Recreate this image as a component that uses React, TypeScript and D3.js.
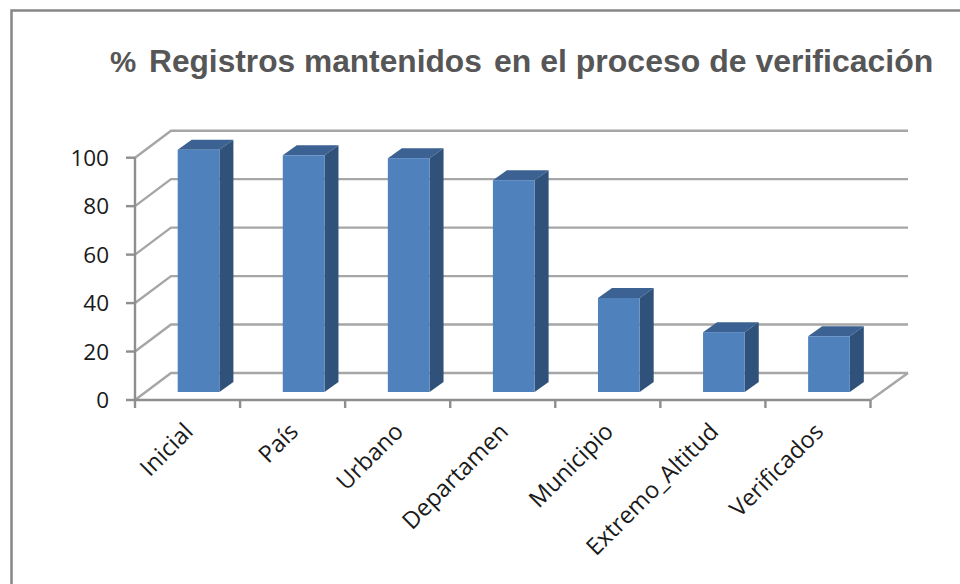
import React from "react";
import * as d3 from "d3";

const categories = ["Inicial", "País", "Urbano", "Departamen", "Municipio", "Extremo_Altitud", "Verificados"];
const values = [100, 97.7, 96.5, 87.4, 38.8, 24.7, 23];
const yTicks = [0, 20, 40, 60, 80, 100];
const titleParts = ["%", "Registros mantenidos", "en el proceso de verificación"];

const GRID = "#a6a6a6";
const AXIS = "#8e8e8e";
const FRONT = "#4f81bd";
const TOP = "#3b6292";
const SIDE = "#30527a";

// Oblique projection of the floor and back wall
const wallDx = 36;
const wallDy = -27;
const barDx = 14;
const barDy = -10;
const barLift = 8;
const barInset = 42.7;
const barWidth = 41.7;

const x = d3.scaleBand<string>().domain(categories).range([135, 870.5]);
const y = d3.scaleLinear().domain([0, 100]).range([400, 157.7]);
const poly = d3.line<[number, number]>();

export default function App() {
  const right = x.range()[1];
  const left = x.range()[0];
  const base = y(0);
  return (
    <svg width={960} height={584} style={{ position: "fixed", left: 0, top: 0, background: "#fff" }}>
      <path d="M11.5 584V10.5H960" fill="none" stroke="#868686" strokeWidth={2.5} />
      <text y={72} fontFamily="Liberation Sans" fontWeight={700} fontSize={32} fill="#565656">
        <tspan x={110} fontSize={29.5}>{titleParts[0]}</tspan>
        <tspan x={149} fontSize={31.7}>{titleParts[1]}</tspan>
        <tspan x={494}>{titleParts[2]}</tspan>
      </text>

      {/* Back wall gridlines with their returns along the side wall */}
      {yTicks.map((t) => (
        <path
          key={t}
          d={poly([[left, y(t)], [left + wallDx, y(t) + wallDy], [right + wallDx + 1.5, y(t) + wallDy]]) ?? ""}
          fill="none"
          stroke={GRID}
          strokeWidth={2.4}
        />
      ))}
      <path
        d={poly([[right, base], [right + wallDx + 1.5, base + wallDy]]) ?? ""}
        fill="none"
        stroke={GRID}
        strokeWidth={2.4}
      />

      {/* Axes */}
      <path d={`M${left} ${y(100)}V${base}H${right}`} fill="none" stroke={AXIS} strokeWidth={2.4} />
      {yTicks.map((t) => (
        <g key={t}>
          <line x1={left - 9} x2={left} y1={y(t)} y2={y(t)} stroke={AXIS} strokeWidth={2.4} />
          <text x={109} y={y(t)} dy="0.36em" textAnchor="end" fontFamily="Open Sans" fontSize={22.5} fill="#1a1a1a">
            {t}
          </text>
        </g>
      ))}
      {[...categories.map((c) => x(c) as number), right].map((px) => (
        <line key={px} x1={px} x2={px} y1={base} y2={base + 8} stroke={AXIS} strokeWidth={2.4} />
      ))}

      {/* Bars: front, top and side faces */}
      {categories.map((c, i) => {
        const x0 = (x(c) as number) + barInset;
        const x1 = x0 + barWidth;
        const yTop = y(values[i]) - barLift;
        const yBase = base - barLift;
        return (
          <g key={c}>
            <path
              d={(poly([[x0, yTop], [x0 + barDx, yTop + barDy], [x1 + barDx, yTop + barDy], [x1, yTop]]) ?? "") + "Z"}
              fill={TOP}
            />
            <path
              d={(poly([[x1, yTop], [x1 + barDx, yTop + barDy], [x1 + barDx, yBase + barDy], [x1, yBase]]) ?? "") + "Z"}
              fill={SIDE}
            />
            <rect x={x0} y={yTop} width={barWidth} height={yBase - yTop} fill={FRONT} />
          </g>
        );
      })}

      {/* Category labels at 45 degrees */}
      {categories.map((c) => {
        const px = (x(c) as number) + 53.5;
        return (
          <text
            key={c}
            transform={`translate(${px},${base + 27}) rotate(-45)`}
            textAnchor="end"
            dy="0.36em"
            fontFamily="Open Sans"
            fontSize={23.5}
            fill="#1a1a1a"
          >
            {c}
          </text>
        );
      })}
    </svg>
  );
}
